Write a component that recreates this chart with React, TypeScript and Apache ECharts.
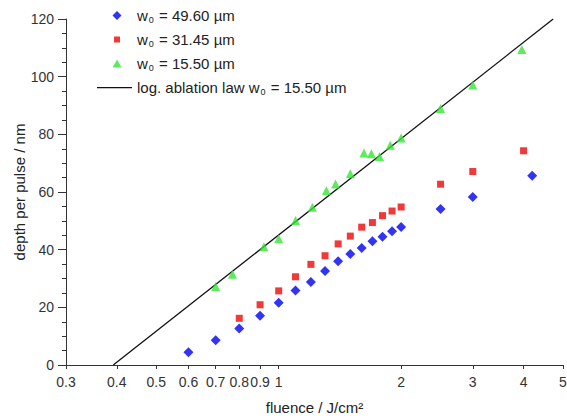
import React, { useEffect, useRef } from "react";
import * as echarts from "echarts";

const xTicks = [0.3, 0.4, 0.5, 0.6, 0.7, 0.8, 0.9, 1, 2, 3, 4, 5];

const blueX = [0.6, 0.7, 0.8, 0.9, 1.0, 1.1, 1.2, 1.3, 1.4, 1.5, 1.6, 1.7, 1.8, 1.9, 2.0, 2.5, 3.0, 4.2];
const blueY = [4.4, 8.6, 12.7, 17.1, 21.6, 25.8, 28.8, 32.6, 36.0, 38.5, 40.6, 42.9, 44.5, 46.4, 47.9, 54.1, 58.3, 65.6];

const redX = [0.8, 0.9, 1.0, 1.1, 1.2, 1.3, 1.4, 1.5, 1.6, 1.7, 1.8, 1.9, 2.0, 2.5, 3.0, 4.0];
const redY = [16.2, 20.9, 25.7, 30.6, 34.9, 37.9, 42.0, 44.7, 47.8, 49.4, 51.8, 53.4, 54.8, 62.7, 67.1, 74.3];

const greenX = [0.7, 0.77, 0.92, 1.0, 1.1, 1.21, 1.31, 1.38, 1.5, 1.62, 1.69, 1.77, 1.88, 2.0, 2.5, 3.0, 3.96];
const greenY = [27.2, 31.5, 41.0, 43.8, 50.1, 54.7, 60.4, 62.8, 66.3, 73.5, 73.3, 72.3, 76.2, 78.7, 89.0, 97.1, 109.4];

const lawX = [0.392, 4.73];
const lawY = [0, 120];

const names = [
  "w0 = 49.60 µm",
  "w0 = 31.45 µm",
  "w0 = 15.50 µm",
  "log. ablation law w0 = 15.50 µm",
];

const BLUE = "#0000f0";
const RED = "#ee0808";
const GREEN = "#33e633";
const BLACK = "#111";

const zip = (xs: number[], ys: number[]) => xs.map((x, i) => [x, ys[i]]);

const FONT = "Liberation Sans, Arial, sans-serif";

// legend icons: bounding box padded to exactly 35x10 so nothing is rescaled
const PAD = "M0,0 M35,10 ";
const icons = [
  "path://" + PAD + "M20,0.5 L24.5,5 L20,9.5 L15.5,5 Z",
  "path://" + PAD + "M17,2 L23,2 L23,8 L17,8 Z",
  "path://" + PAD + "M20,1 L24.5,9 L15.5,9 Z",
  "path://" + PAD + "M0,4.4 L35,4.4 L35,5.7 L0,5.7 Z",
];

export default function App() {
  const ref = useRef<HTMLDivElement>(null);
  useEffect(() => {
    if (!ref.current) return;
    const chart = echarts.init(ref.current, undefined, { renderer: "svg" });
    chart.setOption({
      animation: false,
      textStyle: { fontFamily: FONT },
      grid: { left: 66, right: 4, top: 19, bottom: 53, outerBoundsMode: "none" },
      legend: {
        orient: "vertical",
        left: 92,
        top: 2,
        itemWidth: 35,
        itemHeight: 10,
        itemGap: 7,
        selectedMode: false,
        data: names.map((n, i) => ({ name: n, icon: icons[i] })),
        formatter: (n: string) => n.replace("w0", "w{sub|0}"),
        textStyle: {
          fontFamily: FONT,
          fontSize: 15,
          color: "#222",
          lineHeight: 17,
          rich: {
            sub: { fontSize: 9, lineHeight: 17, verticalAlign: "bottom", padding: [8, 1, 0, 1], color: "#222", fontFamily: FONT },
          },
        },
      },
      xAxis: {
        type: "log",
        min: 0.3,
        max: 5,
        name: "fluence / J/cm²",
        nameLocation: "middle",
        nameGap: 35,
        nameMoveOverlap: false,
        nameTextStyle: { fontSize: 15, color: "#222", fontFamily: FONT },
        axisLine: { lineStyle: { color: "#333", width: 1 } },
        axisTick: { show: true, length: 4, customValues: xTicks, lineStyle: { color: "#333" } },
        minorTick: { show: false },
        splitLine: { show: false },
        axisLabel: {
          customValues: xTicks,
          margin: 10,
          fontSize: 14,
          color: "#333",
          hideOverlap: false,
          formatter: (v: number) => String(Number(v.toPrecision(3))),
        },
      },
      yAxis: {
        type: "value",
        min: 0,
        max: 120,
        interval: 20,
        name: "depth per pulse / nm",
        nameLocation: "middle",
        nameGap: 39,
        nameMoveOverlap: false,
        nameTextStyle: { fontSize: 15, color: "#222", fontFamily: FONT },
        axisLine: { show: true, lineStyle: { color: "#333", width: 1 } },
        axisTick: { show: true, length: 8, lineStyle: { color: "#333" } },
        minorTick: { show: true, splitNumber: 4, length: 4, lineStyle: { color: "#333" } },
        splitLine: { show: false },
        axisLabel: { margin: 12, fontSize: 14, color: "#333" },
      },
      series: [
        {
          name: names[0],
          type: "scatter",
          symbol: "diamond",
          symbolSize: 10,
          itemStyle: { color: BLUE },
          data: zip(blueX, blueY),
        },
        {
          name: names[1],
          type: "scatter",
          symbol: "rect",
          symbolSize: 7,
          itemStyle: { color: RED },
          data: zip(redX, redY),
        },
        {
          name: names[2],
          type: "scatter",
          symbol: "triangle",
          symbolSize: 9,
          itemStyle: { color: GREEN },
          data: zip(greenX, greenY),
        },
        {
          name: names[3],
          type: "line",
          symbol: "none",
          lineStyle: { color: BLACK, width: 1.3 },
          itemStyle: { color: BLACK },
          data: zip(lawX, lawY),
          z: 1,
        },
      ],
    });
    return () => chart.dispose();
  }, []);
  return <div ref={ref} style={{ width: 567, height: 418, position: "absolute", left: 0, top: 0 }} />;
}
